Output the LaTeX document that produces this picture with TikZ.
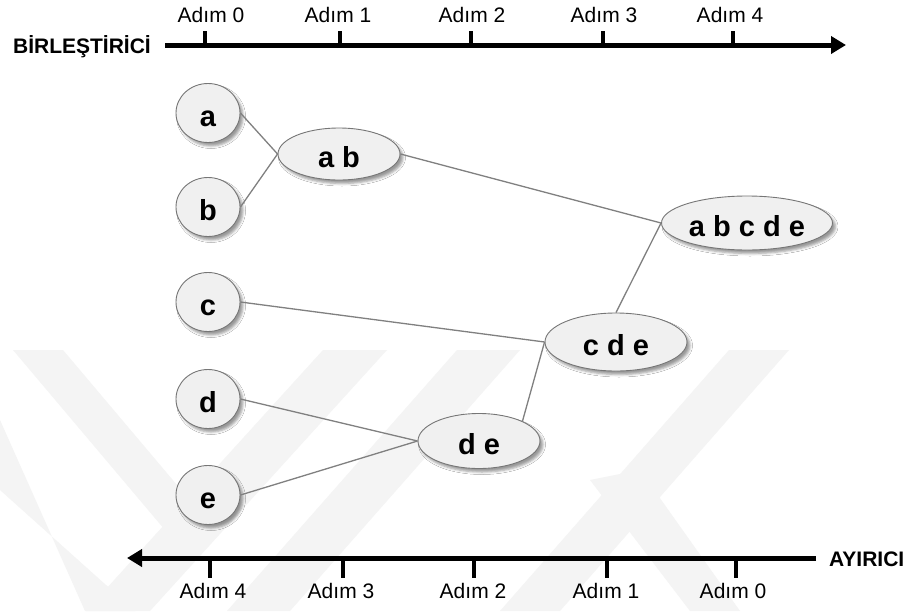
\documentclass[tikz,border=0pt]{standalone}
\usepackage{fontspec}
\setmainfont{Liberation Sans}
\usetikzlibrary{arrows.meta,shapes.geometric,shadows.blur}

\definecolor{nodefill}{RGB}{240,240,240}
\definecolor{nodeline}{RGB}{118,118,118}
\definecolor{linkgray}{RGB}{128,128,128}
\definecolor{markgray}{RGB}{244,244,244}

\newcommand{\clusterfont}{\fontsize{29}{34}\selectfont\bfseries}

\begin{document}
\begin{tikzpicture}[x=1pt,y=-1pt,
 cluster/.style={ellipse,draw=nodeline,fill=nodefill,line width=0.9pt,inner sep=0pt,
   text height=26pt,text depth=0pt,font=\clusterfont,
   blur shadow={shadow xshift=3pt,shadow yshift=-3.5pt,shadow blur radius=2.5pt}},
 leaf/.style={cluster,minimum width=64pt,minimum height=59pt},
 link/.style={draw=linkgray,line width=1.3pt},
 axis/.style={line width=5pt,-{Triangle[length=15pt,width=17pt]}},
 tick/.style={line width=4pt},
 steplabel/.style={font=\fontsize{21}{25}\selectfont,inner sep=0pt,anchor=base},
 axislabel/.style={font=\fontsize{21}{25}\selectfont\bfseries,inner sep=0pt}]
\useasboundingbox[fill=white] (0,0) rectangle (916,611);

% faint background stripes
\fill[markgray] (13,350) -- (63,350) -- (215,530) -- (165,530) -- cycle;
\fill[markgray] (0,420) -- (0,490) -- (135,611) -- (85,611) -- cycle;
\fill[markgray] (323,350) -- (387,350) -- (150,611) -- (86,611) -- cycle;
\fill[markgray] (457,350) -- (520,350) -- (290,611) -- (227,611) -- cycle;
\fill[markgray] (729,350) -- (789,350) -- (560,611) -- (500,611) -- cycle;
\fill[markgray] (590,480) -- (640,470) -- (740,611) -- (690,611) -- cycle;

% top axis (merging)
\node[axislabel,anchor=base east] (merge) at (151,53) {BİRLEŞTİRİCİ};
\coordinate (mergestart) at (165,45);
\coordinate (mergeend) at (846,45);
\draw[axis] (mergestart) -- (mergeend);
\draw[tick] (205,45) -- (205,31);
\draw[tick] (340,45) -- (340,31);
\draw[tick] (471,45) -- (471,31);
\draw[tick] (603,45) -- (603,31);
\draw[tick] (733,45) -- (733,31);
\node[steplabel] (m0) at (211,22) {Adım 0};
\node[steplabel] (m1) at (338,22) {Adım 1};
\node[steplabel] (m2) at (472,22) {Adım 2};
\node[steplabel] (m3) at (604,22) {Adım 3};
\node[steplabel] (m4) at (730,22) {Adım 4};

% bottom axis (splitting)
\node[axislabel,anchor=base west] (split) at (829,566) {AYIRICI};
\coordinate (splitstart) at (816,558);
\coordinate (splitend) at (127,558);
\draw[axis] (splitstart) -- (splitend);
\draw[tick] (210,558) -- (210,578);
\draw[tick] (343,558) -- (343,578);
\draw[tick] (474,558) -- (474,578);
\draw[tick] (607,558) -- (607,578);
\draw[tick] (736,558) -- (736,578);
\node[steplabel] (s4) at (213,598) {Adım 4};
\node[steplabel] (s3) at (341,598) {Adım 3};
\node[steplabel] (s2) at (473,598) {Adım 2};
\node[steplabel] (s1) at (606,598) {Adım 1};
\node[steplabel] (s0) at (733,598) {Adım 0};

% clusters
\node[leaf] (a) at (208,113) {a};
\node[leaf] (b) at (208,207) {b};
\node[leaf] (c) at (208,302) {c};
\node[leaf] (d) at (208,399) {d};
\node[leaf] (e) at (208,495) {e};
\node[cluster,minimum width=122pt,minimum height=52pt] (ab) at (339,154) {a b};
\node[cluster,minimum width=122pt,minimum height=55pt] (de) at (479,441) {d e};
\node[cluster,minimum width=142pt,minimum height=58pt] (cde) at (616,342) {c d e};
\node[cluster,minimum width=171pt,minimum height=54pt] (abcde) at (747,223) {a b c d e};

\draw[link] (a.east) -- (ab.west);
\draw[link] (b.east) -- (ab.west);
\draw[link] (ab.east) -- (abcde.west);
\draw[link] (c.east) -- (cde.west);
\draw[link] (d.east) -- (de.west);
\draw[link] (e.east) -- (de.west);
\draw[link] (de.north east) -- (cde.west);
\draw[link] (cde.north) -- (abcde.west);
\end{tikzpicture}
\end{document}
